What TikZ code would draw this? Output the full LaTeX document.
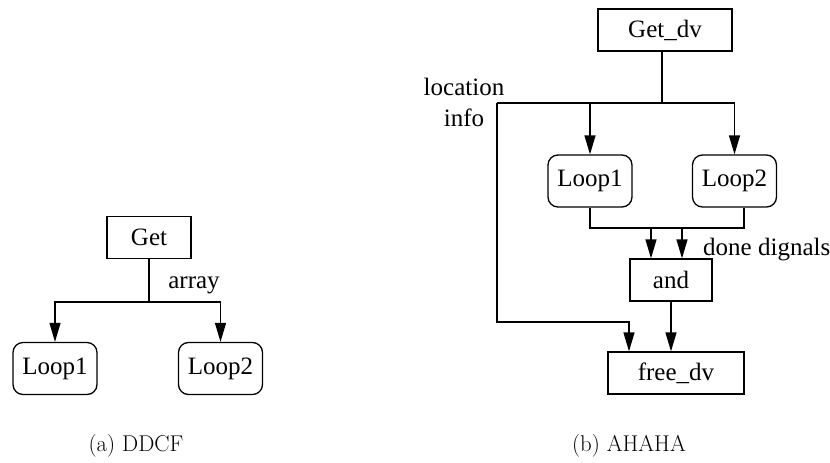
\documentclass[tikz,border=0pt]{standalone}
\usepackage{fontspec}
\setmainfont{Liberation Serif}
\newfontfamily\capfont{Latin Modern Roman}
\usetikzlibrary{positioning,arrows.meta}

\begin{document}
\begin{tikzpicture}
    [x=1pt, y=-1pt, font=\fontsize{25}{31}\selectfont,
    every node/.style={inner sep=0pt, align=center},
    block/.style={draw=black, line width=1.3pt, minimum height=42pt},
    loopbox/.style={draw=black, line width=1.3pt, rounded corners=10pt,
    minimum width=84pt, minimum height=52pt},
    conn/.style={draw=black, line width=1.3pt},
    arr/.style={conn, -{Triangle[length=19pt, width=11pt]}},
    caption/.style={font=\capfont\fontsize{22.8}{27}\selectfont}]
    \useasboundingbox (0,0) rectangle (830,463);
    % (a) DDCF
    \node[block, minimum width=84pt] (get) at (149,237.5) {Get};
    \node[loopbox] (loopa1) at (55,368.5) {Loop1};
    \node[loopbox] (loopa2) at (220.5,368.5) {Loop2};
    \coordinate (splita) at (149,302);
    \draw[conn] (get) -- (splita);
    \draw[arr] (splita) -| (loopa1);
    \draw[arr] (splita) -| (loopa2);
    \node (array) at (194,285) {array};
    \node[caption] (capa) at (136,446) {(a) DDCF};
    % (b) AHAHA
    \node[block, minimum width=134pt] (getdv) at (665,30) {Get\_dv};
    \node[loopbox] (loopb1) at (590,181) {Loop1};
    \node[loopbox] (loopb2) at (734.5,181) {Loop2};
    \node[block, minimum width=82pt] (andn) at (671,280) {and};
    \node[block, minimum width=136pt] (freedv) at (676,373) {free\_dv};
    \coordinate (splitb) at (662,103);
    \coordinate (leftb) at (497,103);
    \coordinate (joinb) at (497,322);
    \draw[conn] (getdv.south -| splitb) -- (splitb);
    \draw[arr] (leftb) -| (loopb2);
    \draw[arr] (splitb -| loopb1) -- (loopb1);
    \draw[arr] (leftb) -- (joinb) -| ([xshift=-47pt]freedv.north);
    \draw[arr] (loopb1) |- (andn.north |- 0,228) -| ([xshift=-20pt]andn.north);
    \draw[arr] ([xshift=9.5pt]loopb2.south) |- (andn.north |- 0,228) -| ([xshift=11pt]andn.north);
    \draw[arr] (andn) -- (andn |- freedv.north);
    \node (locinfo) at (464,102.5) {location\\info};
    \node[anchor=west] (done) at (703,250) {done dignals};
    \node[caption] (capb) at (629,446) {(b) AHAHA};
\end{tikzpicture}
\end{document}
